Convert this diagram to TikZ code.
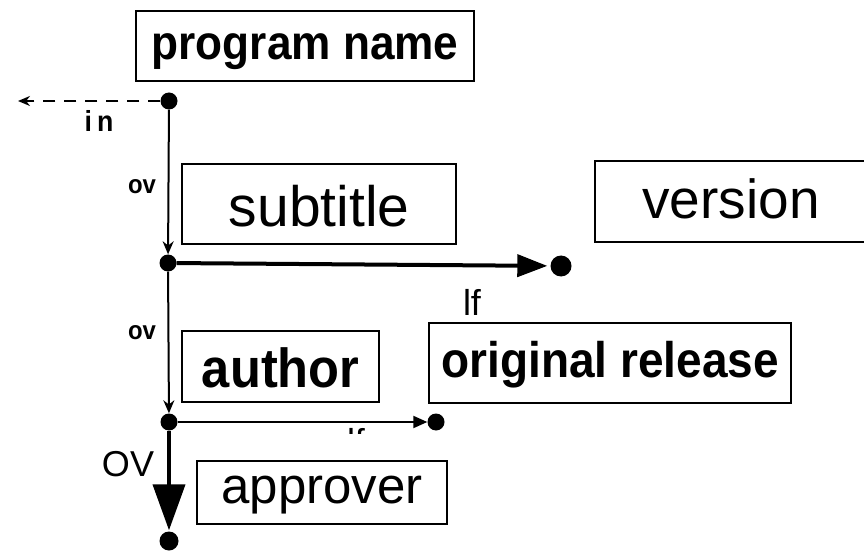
\documentclass[tikz,border=0pt]{standalone}
\usepackage{fontspec}
\setmainfont{Liberation Sans}
\newfontfamily\gothic[FakeStretch=0.92]{Liberation Sans Bold}
\usetikzlibrary{arrows.meta}
\newcommand{\fs}[1]{\fontsize{#1}{#1}\selectfont}
\tikzset{
  x=1pt, y=-1pt,
  box/.style={draw, line width=2.4pt, inner sep=0pt, anchor=north west},
  dot/.style={circle, fill, inner sep=0pt, minimum size=#1},
  dot/.default=17pt,
  link/.style={line width=2pt},
  boldlbl/.style={font=\gothic\fs{26}, inner sep=0pt},
}
\begin{document}
\begin{tikzpicture}
\useasboundingbox (0,0) rectangle (864,553);
\clip (0,0) rectangle (864,553);

% boxes
\node[box, minimum width=338pt, minimum height=70pt] (pname) at (135,10) {};
\node[font=\gothic\fs{48}] at ([yshift=-5pt]pname.center) {program name};
\node[box, minimum width=274pt, minimum height=80pt] (sub) at (181,163) {};
\node[font=\fs{57}] at ([yshift=-2pt]sub.center) {subtitle};
\node[box, minimum width=290pt, minimum height=81pt] (ver) at (594,160) {};
\node[font=\fs{55}] at (731,199) {version};
\node[box, minimum width=197pt, minimum height=71pt] (auth) at (181,330) {};
\node[font=\gothic\fs{55}] at ([yshift=-1pt]auth.center) {author};
\node[box, minimum width=362pt, minimum height=80pt] (orig) at (428,322) {};
\node[font=\gothic\fs{50}] at ([yshift=-1pt]orig.center) {original release};
\node[box, minimum width=250pt, minimum height=63pt] (appr) at (196,460) {};
\node[font=\fs{51}] at ([yshift=-2pt]appr.center) {approver};

% junction dots
\node[dot] (d1) at (169,101) {};
\node[dot] (d2) at (168,263) {};
\node[dot=21pt] (d2r) at (561,266) {};
\node[dot] (d3) at (169,422) {};
\node[dot] (d3r) at (436,422) {};
\node[dot=19pt] (d4) at (169,541) {};
\coordinate (inend) at (18,101);

% connectors
\draw[link, dashed, dash pattern=on 12pt off 9pt, -{Stealth[length=12pt,width=10pt]}] (d1) -- (inend);
\draw[link, -{Stealth[length=13pt,width=11pt]}] (d1) -- (d2);
\draw[line width=4pt, -{Triangle[length=30pt,width=22pt]}, shorten >=3pt] (d2) -- (d2r);
\draw[link, -{Stealth[length=13pt,width=11pt]}] (d2) -- (d3);
\draw[link, -{Triangle[length=14pt,width=12pt]}] (d3) -- (d3r);
\draw[line width=4pt, -{Triangle[length=46pt,width=32pt]}, shorten >=1pt] (d3) -- (d4);

% labels
\node[font=\gothic\fs{29}, inner sep=0pt] (lin) at (99,121) {i\hspace{5pt}n};
\node[boldlbl] (lov1) at (142,187) {ov};
\node[boldlbl] (lov2) at (142,333) {ov};
\node[font=\fs{36}, inner sep=0pt] (llf) at (472,302) {lf};
\node[font=\fs{36}, inner sep=0pt] (lov3) at (128,464) {OV};
\begin{scope}
  \clip (320,424) rectangle (400,433);
  \node[font=\fs{36}, inner sep=0pt] (llf2) at (356,441) {lf};
\end{scope}
\end{tikzpicture}
\end{document}
